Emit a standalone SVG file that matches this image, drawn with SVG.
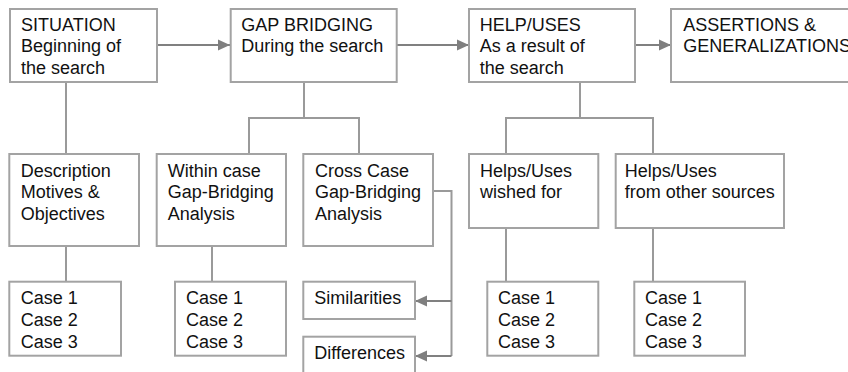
<svg xmlns="http://www.w3.org/2000/svg" width="848" height="372" viewBox="0 0 848 372">
<defs>
<marker id="ah" markerWidth="12" markerHeight="12" viewBox="0 0 12 12" refX="12" refY="6" orient="auto" markerUnits="userSpaceOnUse">
<path d="M0,0.5 L12,6 L0,11.5 Z" fill="#7f7f7f"/>
</marker>
<style>
.box{fill:#fff;stroke:#a3a3a3;stroke-width:2}
.t{font-family:"Liberation Sans",Arial,sans-serif;font-size:18px;fill:#111}
.c{fill:none;stroke:#9a9a9a;stroke-width:2}
.a{fill:none;stroke:#808080;stroke-width:2}
</style>
</defs>
<rect width="848" height="372" fill="#fff"/>
<g id="connectors">
<line class="a" x1="157" y1="45" x2="230" y2="45" marker-end="url(#ah)"/>
<line class="a" x1="397" y1="45" x2="469" y2="45" marker-end="url(#ah)"/>
<line class="a" x1="635" y1="45" x2="671" y2="45" marker-end="url(#ah)"/>
<line class="c" x1="66" y1="82" x2="66" y2="154"/>
<line class="c" x1="66" y1="246" x2="66" y2="282"/>
<path class="c" d="M304,82 V118 M249,154 V118 H359 V154"/>
<line class="c" x1="212" y1="246" x2="212" y2="282"/>
<path class="c" d="M580,82 V118 M506,154 V118 H653 V154"/>
<line class="c" x1="506" y1="228" x2="506" y2="282"/>
<line class="c" x1="653" y1="228" x2="653" y2="282"/>
<path class="c" d="M433,191 H451.5 V356"/>
<line class="a" x1="451.5" y1="301" x2="415" y2="301" marker-end="url(#ah)"/>
<line class="a" x1="451.5" y1="356" x2="415" y2="356" marker-end="url(#ah)"/>
</g>
<g id="situation">
<rect class="box" x="10" y="9" width="147" height="73"/>
<text class="t" x="21" y="30.7">SITUATION</text>
<text class="t" x="21" y="52.3">Beginning of</text>
<text class="t" x="21" y="73.9">the search</text>
</g>
<g id="gap-bridging">
<rect class="box" x="230.7" y="9" width="166" height="73"/>
<text class="t" x="241.3" y="30.7">GAP BRIDGING</text>
<text class="t" x="241.3" y="52.3">During the search</text>
</g>
<g id="help-uses">
<rect class="box" x="469" y="9" width="166" height="73"/>
<text class="t" x="479.7" y="30.7">HELP/USES</text>
<text class="t" x="479.7" y="52.3">As a result of</text>
<text class="t" x="479.7" y="73.9">the search</text>
</g>
<g id="assertions">
<rect class="box" x="671" y="9" width="190" height="73"/>
<text class="t" x="683.3" y="30.7">ASSERTIONS &amp;</text>
<text class="t" x="683.3" y="52.3">GENERALIZATIONS</text>
</g>
<g id="description">
<rect class="box" x="9.3" y="154" width="129.7" height="92"/>
<text class="t" x="20.7" y="176.7">Description</text>
<text class="t" x="20.7" y="198.3">Motives &amp;</text>
<text class="t" x="20.7" y="219.9">Objectives</text>
</g>
<g id="within-case">
<rect class="box" x="156.7" y="154" width="129.3" height="92"/>
<text class="t" x="167.7" y="176.7">Within case</text>
<text class="t" x="167.7" y="198.3">Gap-Bridging</text>
<text class="t" x="167.7" y="219.9">Analysis</text>
</g>
<g id="cross-case">
<rect class="box" x="303.3" y="154" width="129.7" height="92"/>
<text class="t" x="315" y="176.7">Cross Case</text>
<text class="t" x="315" y="198.3">Gap-Bridging</text>
<text class="t" x="315" y="219.9">Analysis</text>
</g>
<g id="helps-wished">
<rect class="box" x="469" y="154" width="129.3" height="74"/>
<text class="t" x="480" y="176.7">Helps/Uses</text>
<text class="t" x="480" y="198.3">wished for</text>
</g>
<g id="helps-other">
<rect class="box" x="615.7" y="154" width="168.3" height="74"/>
<text class="t" x="624.7" y="176.7">Helps/Uses</text>
<text class="t" x="624.7" y="198.3">from other sources</text>
</g>
<g id="cases-1">
<rect class="box" x="9.3" y="281.7" width="111.7" height="74"/>
<text class="t" x="20.7" y="304.3">Case 1</text>
<text class="t" x="20.7" y="325.9">Case 2</text>
<text class="t" x="20.7" y="347.5">Case 3</text>
</g>
<g id="cases-2">
<rect class="box" x="175" y="281.7" width="111" height="74"/>
<text class="t" x="186" y="304.3">Case 1</text>
<text class="t" x="186" y="325.9">Case 2</text>
<text class="t" x="186" y="347.5">Case 3</text>
</g>
<g id="similarities">
<rect class="box" x="303.3" y="281.7" width="111.7" height="37.3"/>
<text class="t" x="314.3" y="304.3">Similarities</text>
</g>
<g id="differences">
<rect class="box" x="303.3" y="336.7" width="111.7" height="50"/>
<text class="t" x="314.3" y="359">Differences</text>
</g>
<g id="cases-3">
<rect class="box" x="487.3" y="281.7" width="111" height="74"/>
<text class="t" x="498" y="304.3">Case 1</text>
<text class="t" x="498" y="325.9">Case 2</text>
<text class="t" x="498" y="347.5">Case 3</text>
</g>
<g id="cases-4">
<rect class="box" x="634.3" y="281.7" width="110.7" height="74"/>
<text class="t" x="645" y="304.3">Case 1</text>
<text class="t" x="645" y="325.9">Case 2</text>
<text class="t" x="645" y="347.5">Case 3</text>
</g>
</svg>
